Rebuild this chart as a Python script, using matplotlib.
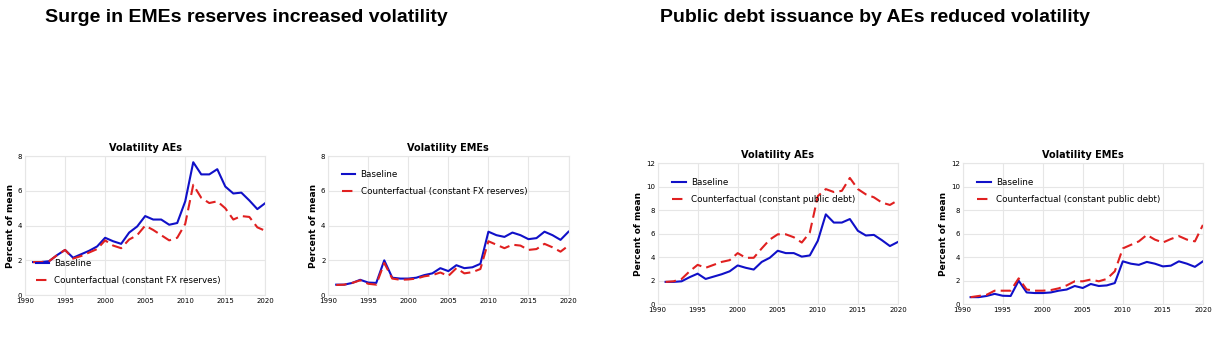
import numpy as np
import matplotlib
matplotlib.use('Agg')
import matplotlib.pyplot as plt

# Datos
years = np.arange(1991, 2021)

base_aes = [1.9, 1.9, 1.95, 2.3, 2.6, 2.15, 2.35, 2.55, 2.8, 3.3,
            3.1, 2.95, 3.6, 3.95, 4.55, 4.35, 4.35, 4.05, 4.15, 5.4,
            7.65, 6.95, 6.95, 7.25, 6.25, 5.85, 5.9, 5.45, 4.95, 5.3]
fx_aes = [1.9, 1.9, 1.95, 2.3, 2.6, 2.1, 2.25, 2.45, 2.65, 3.15,
          2.85, 2.7, 3.2, 3.45, 4.0, 3.75, 3.45, 3.15, 3.3, 4.1,
          6.35, 5.6, 5.3, 5.4, 5.0, 4.35, 4.55, 4.5, 3.9, 3.7]
debt_aes = [1.9, 1.95, 2.15, 2.8, 3.35, 3.1, 3.35, 3.6, 3.75, 4.35,
            3.95, 3.95, 4.75, 5.5, 5.95, 5.95, 5.7, 5.25, 6.1, 9.2,
            9.8, 9.55, 9.65, 10.75, 9.8, 9.35, 9.1, 8.65, 8.45, 8.85]

base_emes = [0.6, 0.6, 0.7, 0.88, 0.72, 0.7, 2.0, 1.0, 0.95, 0.95,
             1.0, 1.15, 1.25, 1.55, 1.38, 1.72, 1.55, 1.6, 1.8, 3.65,
             3.45, 3.35, 3.6, 3.45, 3.22, 3.28, 3.65, 3.45, 3.18, 3.65]
fx_emes = [0.58, 0.6, 0.7, 0.85, 0.65, 0.6, 1.85, 0.95, 0.88, 0.9,
           0.95, 1.08, 1.15, 1.3, 1.1, 1.55, 1.25, 1.32, 1.5, 3.1,
           2.9, 2.7, 2.9, 2.85, 2.6, 2.65, 2.95, 2.75, 2.5, 2.85]
debt_emes = [0.6, 0.7, 0.8, 1.15, 1.15, 1.15, 2.2, 1.25, 1.15, 1.15,
             1.2, 1.35, 1.6, 1.95, 1.95, 2.1, 1.95, 2.15, 2.8, 4.75,
             5.05, 5.35, 5.9, 5.5, 5.25, 5.55, 5.8, 5.5, 5.35, 6.75]

xticks = [1990, 1995, 2000, 2005, 2010, 2015, 2020]

blue = '#1010c8'
red = '#e02020'

fig = plt.figure(figsize=(12.2, 3.38), dpi=100)

# títulos principales
fig.text(0.202, 0.947, "Surge in EMEs reserves increased volatility",
         ha='center', va='center', fontsize=14, fontweight='bold', family='Liberation Sans')
fig.text(0.717, 0.947, "Public debt issuance by AEs reduced volatility",
         ha='center', va='center', fontsize=14, fontweight='bold', family='Liberation Sans')

paneles = [
    ([0.0205, 0.127, 0.197, 0.411], "Volatility AEs", base_aes, fx_aes,
     "Counterfactual (constant FX reserves)", 8, 'lower left', 0.8),
    ([0.269, 0.127, 0.197, 0.411], "Volatility EMEs", base_emes, fx_emes,
     "Counterfactual (constant FX reserves)", 8, 'upper left', 1.2),
    ([0.539, 0.100, 0.197, 0.417], "Volatility AEs", base_aes, debt_aes,
     "Counterfactual (constant public debt)", 12, 'upper left', 1.3),
    ([0.789, 0.100, 0.197, 0.417], "Volatility EMEs", base_emes, debt_emes,
     "Counterfactual (constant public debt)", 12, 'upper left', 1.3),
]

for pos, titulo, base, cf, etiqueta, ymax, loc, pad in paneles:
    ax = fig.add_axes(pos)
    ax.plot(years, base, color=blue, lw=1.5, label="Baseline")
    ax.plot(years, cf, color=red, lw=1.5, ls=(0, (5, 2.5)), label=etiqueta)
    ax.set_xlim(1990, 2020)
    ax.set_ylim(0, ymax)
    ax.set_xticks(xticks)
    ax.set_yticks(np.arange(0, ymax + 1, 2))
    ax.tick_params(length=0, labelsize=5, pad=2)
    ax.grid(True, color='#e6e6e6', lw=0.8)
    for s in ax.spines.values():
        s.set_color('#e6e6e6')
        s.set_linewidth(0.8)
    ax.set_title(titulo, fontsize=7, fontweight='bold', pad=4)
    ax.set_ylabel("Percent of mean", fontsize=6.5, fontweight='bold', labelpad=2)
    ax.legend(loc=loc, frameon=False, fontsize=6.3, handlelength=1.5,
              handletextpad=0.6, labelspacing=0.9, borderaxespad=pad)

plt.savefig('out.png', dpi=100)
